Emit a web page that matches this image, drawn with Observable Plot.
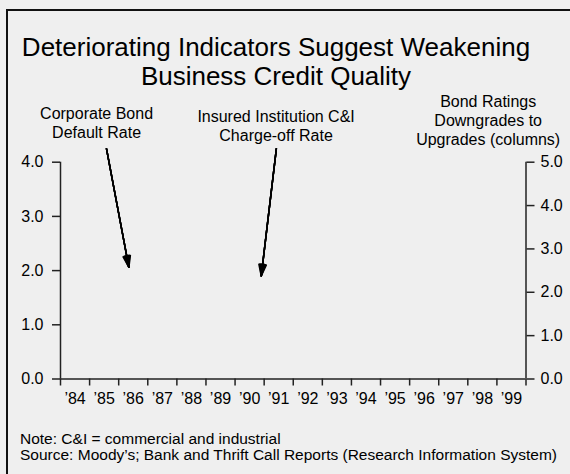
<!DOCTYPE html>
<html>
<head>
<meta charset="utf-8">
<script src="https://cdn.jsdelivr.net/npm/d3@7"></script>
<script src="https://cdn.jsdelivr.net/npm/@observablehq/plot@0.6"></script>
<style>
  html, body { margin: 0; padding: 0; background: #efefef; }
  #wrap { position: relative; width: 570px; height: 474px; overflow: hidden; background: #efefef;
          font-family: "Liberation Sans", Arial, Helvetica, sans-serif; color: #000; }
  #frame { position: absolute; left: 6px; top: 9px; width: 620px; height: 520px; border: 2px solid #111; box-sizing: border-box; }
  #title { position: absolute; left: 0; top: 33px; width: 552px; text-align: center; font-size: 26px; line-height: 29px; }
  #notes { position: absolute; left: 20px; top: 431px; font-size: 15.5px; line-height: 15.5px; white-space: nowrap; }
  #chart { position: absolute; left: 0; top: 0; }
</style>
</head>
<body>
<div id="wrap">
  <div id="frame"></div>
  <div id="chart"></div>
  <div id="title">Deteriorating Indicators Suggest Weakening<br>Business Credit Quality</div>
  <div id="notes">Note: C&amp;I = commercial and industrial<br>Source: Moody’s; Bank and Thrift Call Reports (Research Information System)</div>
</div>
<script>
// Years on the x axis (one band per year)
const years = [1984, 1985, 1986, 1987, 1988, 1989, 1990, 1991, 1992, 1993, 1994, 1995, 1996, 1997, 1998, 1999];
// Left axis: percent rates
const leftTicks = [0, 1, 2, 3, 4];
// Right axis: downgrades-to-upgrades ratio
const rightTicks = [0, 1, 2, 3, 4, 5];
const rightMax = 5, leftMax = 4;

// Annotation labels (data coordinates: year, left-axis value)
const labels = [
  {x: 1984.74, y: 4.74, text: "Corporate Bond\nDefault Rate"},
  {x: 1990.91, y: 4.68, text: "Insured Institution C&I\nCharge-off Rate"},
  {x: 1998.2, y: 4.78, text: "Bond Ratings\nDowngrades to\nUpgrades (columns)"}
];
// Annotation arrows
const arrows = [
  {x1: 1985.08, y1: 4.25, x2: 1985.85, y2: 2.06},
  {x1: 1990.92, y1: 4.25, x2: 1990.40, y2: 1.90}
];
// arrowhead fill angles (several nested heads give a solid head)
const headAngles = [36, 28, 20, 12, 5];

const edges = [years[0] - 0.5, ...years.map(d => d + 0.5)];
const x0 = edges[0], x1 = edges[edges.length - 1];

const chart = Plot.plot({
  width: 570,
  height: 474,
  marginLeft: 60,
  marginRight: 44.5,
  marginTop: 161.7,
  marginBottom: 95.5,
  style: {background: "transparent", fontFamily: "'Liberation Sans', Arial, Helvetica, sans-serif", fontSize: "16px", color: "#000"},
  x: {domain: [x0, x1]},
  y: {domain: [0, leftMax]},
  marks: [
    // axis lines
    Plot.ruleX([x0, x1], {y1: 0, y2: leftMax, stroke: "#222", strokeWidth: 1.5}),
    Plot.ruleY([0], {x1: x0, x2: x1, stroke: "#222", strokeWidth: 1.5}),
    // left axis
    Plot.axisY(leftTicks, {anchor: "left", tickSize: 8, tickPadding: 9, tickFormat: d => d.toFixed(1), label: null, stroke: "#222", strokeWidth: 1.5, fontSize: 16}),
    // right axis (scaled onto the left axis range)
    Plot.axisY(rightTicks.map(d => d * leftMax / rightMax), {anchor: "right", tickSize: 8, tickPadding: 6.5, tickFormat: d => (d * rightMax / leftMax).toFixed(1), label: null, stroke: "#222", strokeWidth: 1.5, fontSize: 16}),
    // x tick marks at band edges
    Plot.axisX(edges, {anchor: "bottom", tickSize: 7, tickFormat: () => "", label: null, stroke: "#222", strokeWidth: 1.5}),
    // x labels centred in each year
    Plot.axisX(years, {anchor: "bottom", tickSize: 0, tickPadding: 14, tickFormat: d => "’" + String(d).slice(2), label: null, fontSize: 16}),
    // annotations
    Plot.text(labels, {x: "x", y: "y", text: "text", fontSize: 16, lineHeight: 1.2, textAnchor: "middle", lineAnchor: "middle", fill: "#000"}),
    ...headAngles.map(a => Plot.arrow(arrows, {x1: "x1", y1: "y1", x2: "x2", y2: "y2", stroke: "#000", strokeWidth: 1.5, headLength: 12, headAngle: a}))
  ]
});
document.getElementById("chart").appendChild(chart);
</script>
</body>
</html>
